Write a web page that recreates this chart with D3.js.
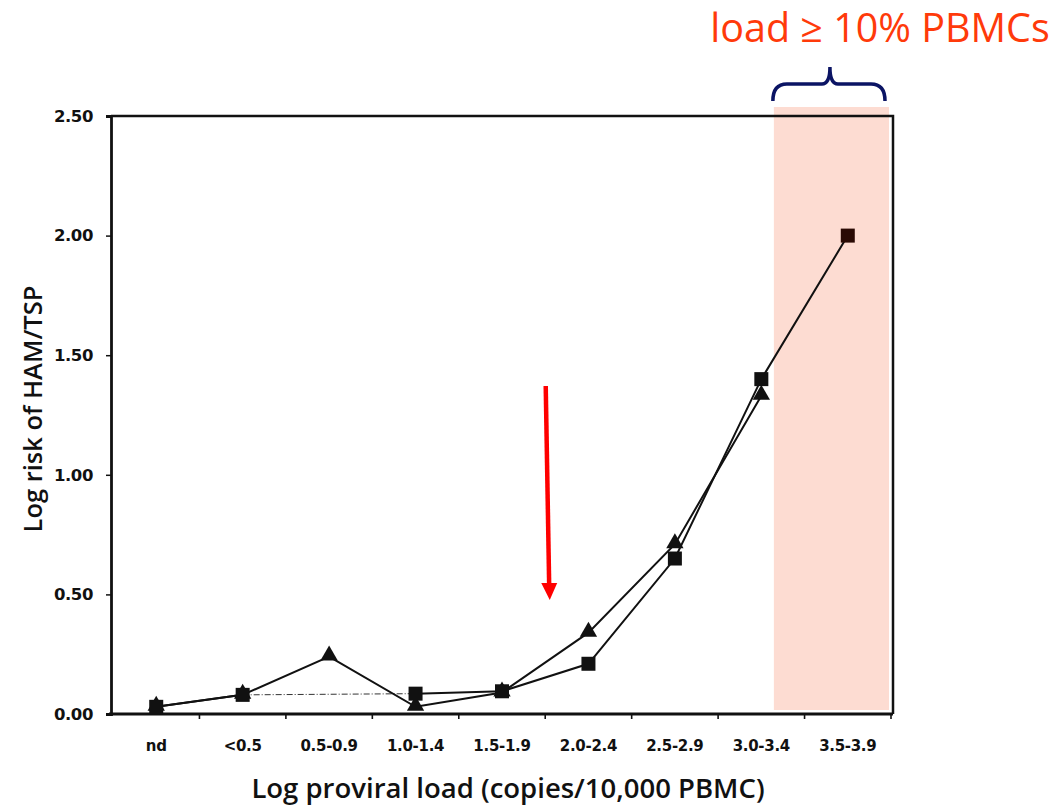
<!DOCTYPE html>
<html>
<head>
<meta charset="utf-8">
<script src="https://cdn.jsdelivr.net/npm/d3@7/dist/d3.min.js"></script>
<style>
  html, body { margin: 0; padding: 0; background: #fff; }
  svg { display: block; }
</style>
</head>
<body>
<svg id="chart" width="1055" height="806"></svg>
<script>
// Proviral load categories (log copies / 10,000 PBMC)
const categories = ["nd", "<0.5", "0.5-0.9", "1.0-1.4", "1.5-1.9", "2.0-2.4", "2.5-2.9", "3.0-3.4", "3.5-3.9"];
// Log risk of HAM/TSP, two estimates (null = no point)
const triangleSeries = [0.03, 0.08, 0.24, 0.03, 0.09, 0.34, 0.71, 1.33, null];
const squareSeries   = [0.03, 0.08, null, 0.085, 0.095, 0.21, 0.65, 1.40, 2.00];
const yTicks = [0, 0.5, 1.0, 1.5, 2.0, 2.5];
const highlightCats = ["3.5-3.9"];

const svg = d3.select("#chart");
const margin = { left: 112, right: 164, top: 116, bottom: 92 };
const W = 1055, H = 806;
const x = d3.scaleBand().domain(categories).range([margin.left + 1, W - margin.right]).padding(0);
const y = d3.scaleLinear().domain([0, 2.5]).range([H - margin.bottom, margin.top]);

const ink = "#111";
const bold = "'DejaVu Sans', sans-serif";
const titleFont = "'Open Sans', sans-serif";

// highlighted band for the highest load group
const bandL = x(highlightCats[0]) - x.bandwidth() * 0.355;
const bandR = x(highlightCats[0]) + x.bandwidth() - 2;
svg.append("rect")
  .attr("x", bandL).attr("y", margin.top - 9)
  .attr("width", bandR - bandL).attr("height", y(0) - 4 - (margin.top - 9))
  .attr("fill", "#fddcd2");

// frame (top and right sides)
svg.append("path")
  .attr("d", `M${x.range()[0] - 2},${y(2.5)} H${x.range()[1] + 2} V${y(0)}`)
  .attr("fill", "none").attr("stroke", ink).attr("stroke-width", 2.5);

// y axis
const yAxis = svg.append("g")
  .attr("transform", `translate(${x.range()[0] - 2},0)`)
  .call(d3.axisLeft(y).tickValues(yTicks).tickFormat(d3.format(".2f")).tickSize(5).tickPadding(13));
yAxis.select(".domain").attr("stroke", ink).attr("stroke-width", 2.8);
yAxis.selectAll(".tick line").attr("stroke", ink).attr("stroke-width", 1.5);
yAxis.selectAll(".tick text")
  .attr("font-family", bold).attr("font-weight", "bold").attr("font-size", 16.5)
  .attr("fill", ink).attr("letter-spacing", -0.4);

// x axis with ticks on the category boundaries
const xAxis = svg.append("g").attr("transform", `translate(0,${y(0)})`);
xAxis.append("line")
  .attr("x1", x.range()[0] - 4).attr("x2", x.range()[1] + 2)
  .attr("stroke", ink).attr("stroke-width", 2.8);
xAxis.selectAll("line.b").data(categories).join("line")
  .attr("class", "b")
  .attr("x1", d => x(d) + x.bandwidth())
  .attr("x2", d => x(d) + x.bandwidth())
  .attr("y1", 0).attr("y2", 5)
  .attr("stroke", ink).attr("stroke-width", 1.6);
xAxis.selectAll("text").data(categories).join("text")
  .attr("x", d => x(d) + x.bandwidth() / 2)
  .attr("y", 37)
  .attr("text-anchor", "middle")
  .attr("font-family", bold).attr("font-weight", "bold").attr("font-size", 15)
  .attr("letter-spacing", -0.3)
  .attr("fill", ink)
  .text(d => d);

// axis titles
svg.append("text")
  .attr("x", 508).attr("y", 798)
  .attr("text-anchor", "middle")
  .attr("font-family", titleFont).attr("font-weight", 600).attr("font-size", 27.5)
  .attr("fill", ink)
  .text("Log proviral load (copies/10,000 PBMC)");
svg.append("text")
  .attr("transform", "translate(42,409) rotate(-90)")
  .attr("text-anchor", "middle")
  .attr("font-family", titleFont).attr("font-weight", 600).attr("font-size", 25.5)
  .attr("fill", ink)
  .text("Log risk of HAM/TSP");

const cx = (i) => x(categories[i]) + x.bandwidth() / 2;

// dotted connector across the missing square value
const gapStart = 1, gapEnd = 3;
svg.append("line")
  .attr("x1", cx(gapStart)).attr("y1", y(squareSeries[gapStart]))
  .attr("x2", cx(gapEnd)).attr("y2", y(squareSeries[gapEnd]))
  .attr("stroke", "#333").attr("stroke-width", 1).attr("stroke-dasharray", "6,2,1,2");

const line = d3.line()
  .defined(d => d.v !== null)
  .x(d => cx(d.i))
  .y(d => y(d.v));

const tri = triangleSeries.map((v, i) => ({ i, v }));
const sq = squareSeries.map((v, i) => ({ i, v }));

svg.append("path").datum(tri)
  .attr("d", line).attr("fill", "none").attr("stroke", ink).attr("stroke-width", 2);
svg.append("path").datum(sq)
  .attr("d", line).attr("fill", "none").attr("stroke", ink).attr("stroke-width", 2);

// markers
const triSym = d3.symbol().type(d3.symbolTriangle).size(130);
svg.selectAll("path.tri").data(tri.filter(d => d.v !== null)).join("path")
  .attr("class", "tri")
  .attr("d", triSym)
  .attr("transform", d => `translate(${cx(d.i)},${y(d.v) - 1})`)
  .attr("fill", ink);
svg.selectAll("rect.sq").data(sq.filter(d => d.v !== null)).join("rect")
  .attr("class", "sq")
  .attr("x", d => cx(d.i) - 7).attr("y", d => y(d.v) - 7)
  .attr("width", 14).attr("height", 14)
  .attr("fill", (d) => d.i === 8 ? "#2a0a04" : ink);

// red arrow
const arrowX = (x(categories[4]) + x.bandwidth() + x(categories[5])) / 2 + 2;
svg.append("line")
  .attr("x1", arrowX - 1.5).attr("y1", 386)
  .attr("x2", arrowX + 2).attr("y2", 588)
  .attr("stroke", "#ff0000").attr("stroke-width", 4.5);
svg.append("path")
  .attr("d", `M${arrowX - 6},583 L${arrowX + 10},583 L${arrowX + 2.5},600 Z`)
  .attr("fill", "#ff0000");

// brace over the highlighted band
const bx0 = bandL - 1, bx1 = bandR - 4, by0 = 101, by1 = 84, mid = (bx0 + bx1) / 2 + 1;
svg.append("path")
  .attr("d", `M${bx0},${by0} Q${bx0},${by1} ${bx0 + 14},${by1} H${mid - 8} Q${mid},${by1} ${mid},${by1 - 17}
              Q${mid},${by1} ${mid + 8},${by1} H${bx1 - 14} Q${bx1},${by1} ${bx1},${by0}`)
  .attr("fill", "none").attr("stroke", "#0b1464").attr("stroke-width", 3.5);

svg.append("text")
  .attr("x", 880).attr("y", 42)
  .attr("text-anchor", "middle")
  .attr("font-family", titleFont).attr("font-size", 39.5)
  .attr("fill", "#ff3a0a")
  .text("load ≥ 10% PBMCs");
</script>
</body>
</html>
